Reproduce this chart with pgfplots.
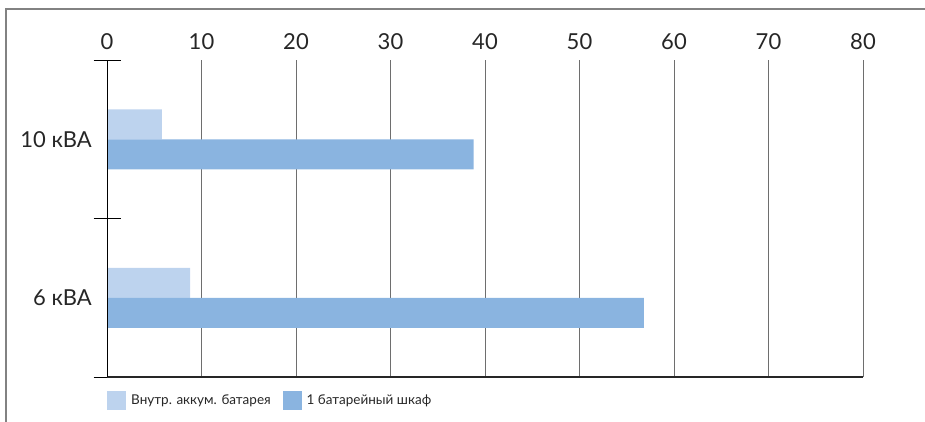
\documentclass[border=0pt]{standalone}
\usepackage{fontspec}
\setmainfont{Lato}
\usepackage{pgfplots}
\pgfplotsset{compat=1.18}
\definecolor{lightb}{RGB}{189,211,238}
\definecolor{darkb}{RGB}{138,180,224}
\definecolor{gridc}{RGB}{110,110,110}
\definecolor{framec}{RGB}{130,130,130}
\begin{document}
\begin{tikzpicture}
\useasboundingbox (0,0) rectangle (925pt,421pt);
\draw[framec, line width=1.2pt] (6pt,-5pt) -- (6pt,412pt) -- (935pt,412pt);
\begin{axis}[
  at={(107pt,44pt)}, anchor=south west,
  scale only axis, width=756pt, height=317pt,
  xmin=0, xmax=80, ymin=-0.5, ymax=1.5,
  xbar, bar width=30pt,
  axis line style={draw=none},
  xtick={0,10,...,80}, xticklabel pos=upper,
  xmajorgrids, grid style={gridc, line width=1pt},
  ytick={0,1}, yticklabels={6 кВА,10 кВА},
  minor ytick={-0.5,0.5,1.5},
  ytick pos=left,
  tick align=center,
  major tick length=0pt, minor tick length=27pt,
  minor tick style={black, line width=1pt},
  /pgf/number format/assume math mode=true,
  tick label style={font=\fontsize{22}{26}\selectfont, inner sep=0pt, text=black!85},
  xticklabel style={yshift=10pt},
  yticklabel style={xshift=-15pt},
  legend columns=2,
  legend cell align=left,
  legend style={at={(0,0)}, anchor=north west, yshift=-14pt, draw=none, fill=none,
    font=\fontsize{13.5}{16}\selectfont, inner sep=0pt, text=black!85,
    /tikz/every odd column/.append style={column sep=3pt},
    /tikz/every even column/.append style={column sep=10pt}},
  legend image code/.code={\path[#1] (0pt,-9.5pt) rectangle (19pt,9.5pt);},
]
\addplot[fill=lightb, draw=none, bar shift=15pt] coordinates {(5.8,1) (8.8,0)};
\addplot[fill=darkb, draw=none, bar shift=-15pt] coordinates {(38.8,1) (56.8,0)};
\legend{Внутр. аккум. батарея, 1 батарейный шкаф}
\draw[black!85, line width=1.5pt] (rel axis cs:0,0) -- (rel axis cs:1,0);
\draw[black, line width=1.2pt] (rel axis cs:0,0) -- (rel axis cs:0,1);
\end{axis}
\end{tikzpicture}
\end{document}
